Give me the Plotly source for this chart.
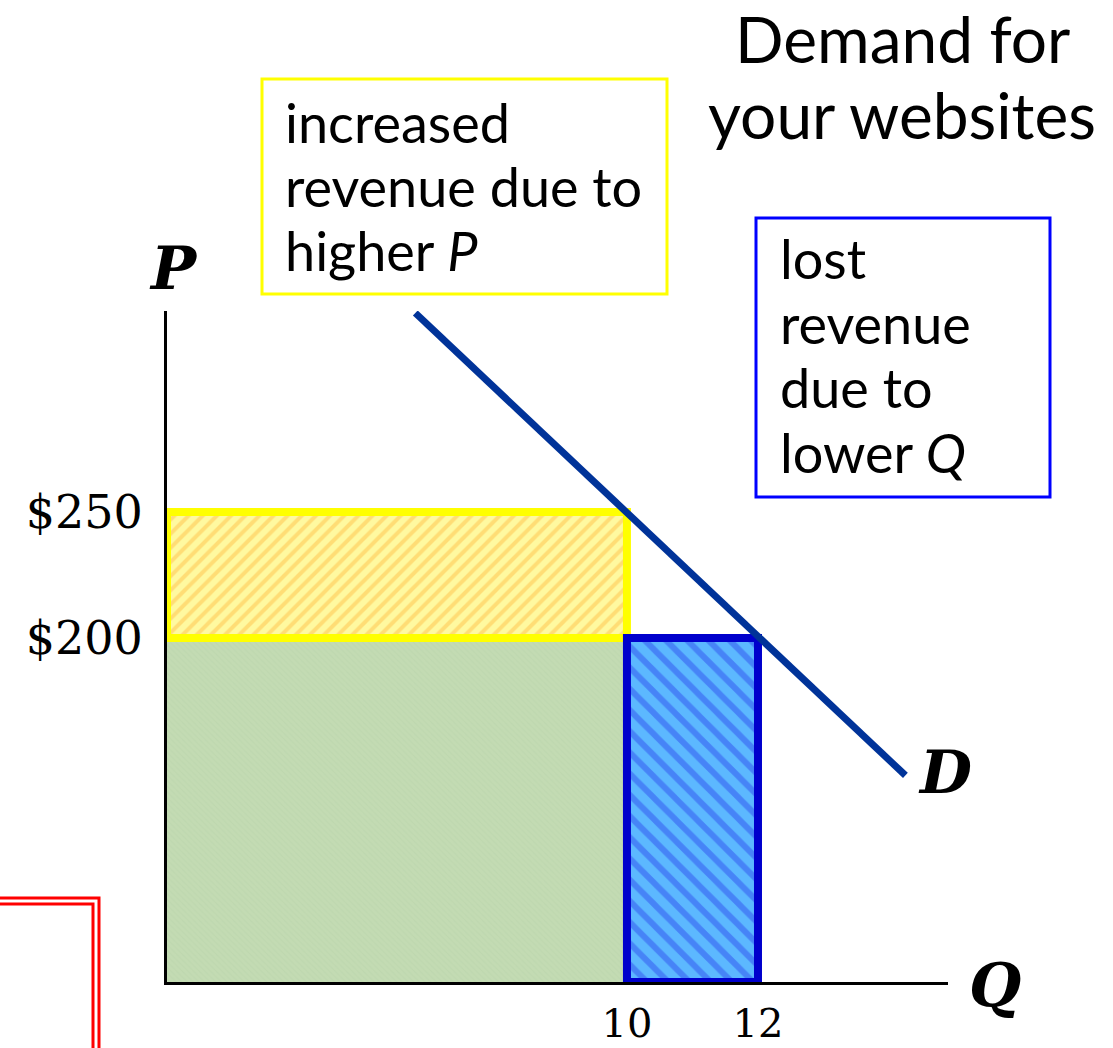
import plotly.graph_objects as go

# ---- data ----
Q_MIN, Q_MAX = 2.98, 14.9          # visible quantity axis span
P_MIN, P_MAX = 63.5, 329.8         # visible price axis span
q_high_price = 10                  # quantity sold at the higher price
q_low_price = 12                   # quantity sold at the lower price
p_high = 250
p_low = 200
demand_q = [6.77, 14.25]
demand_p = [329.0, 145.5]
x_tickvals = [10, 12]
x_ticktext = ["10", "12"]
y_tickvals = [200, 250]
y_ticktext = ["$200", "$250"]
title_lines = ["Demand for", "your websites"]
yellow_lines = ["increased", "revenue due to", "higher <i>P</i>"]
blue_lines = ["lost", "revenue", "due to", "lower <i>Q</i>"]

W, H = 1113, 1048
ML, MR, MT, MB = 167, 165, 311, 66
PW, PH = W - ML - MR, H - MT - MB


def px(x):
    return (x - ML) / PW


def py(y):
    return (H - MB - y) / PH


SANS = "Lato"
SERIF = "DejaVu Serif"

fig = go.Figure()

# base revenue (green)
fig.add_trace(go.Scatter(
    x=[Q_MIN, q_high_price, q_high_price, Q_MIN, Q_MIN],
    y=[P_MIN, P_MIN, p_low, p_low, P_MIN],
    fill="toself", mode="lines", line=dict(width=0),
    fillcolor="#C3DBB3",
    fillpattern=dict(shape="\\", bgcolor="#C3DBB3", fgcolor="#B9D4AC", size=4, solidity=0.3),
    hoverinfo="skip", showlegend=False))

# increased revenue (yellow)
fig.add_trace(go.Scatter(
    x=[Q_MIN, q_high_price, q_high_price, Q_MIN, Q_MIN],
    y=[p_low, p_low, p_high, p_high, p_low],
    fill="toself", mode="lines", line=dict(color="#FFFF00", width=8),
    fillpattern=dict(shape="/", bgcolor="#FFF9A0", fgcolor="#FFC24A", size=10, solidity=0.4),
    hoverinfo="skip", showlegend=False))

# lost revenue (blue)
fig.add_trace(go.Scatter(
    x=[q_high_price, q_low_price, q_low_price, q_high_price, q_high_price],
    y=[P_MIN, P_MIN, p_low, p_low, P_MIN],
    fill="toself", mode="lines", line=dict(color="#0000CC", width=8),
    fillpattern=dict(shape="\\", bgcolor="#5CB8FF", fgcolor="#3050F0", size=15, solidity=0.4),
    hoverinfo="skip", showlegend=False))

# demand curve
fig.add_trace(go.Scatter(
    x=demand_q, y=demand_p, mode="lines",
    line=dict(color="#003399", width=7),
    hoverinfo="skip", showlegend=False))

shapes = [
    dict(type="rect", xref="paper", yref="paper",
         x0=px(262), x1=px(667), y0=py(294), y1=py(79),
         line=dict(color="#FFFF00", width=3), fillcolor="white"),
    dict(type="rect", xref="paper", yref="paper",
         x0=px(756), x1=px(1050), y0=py(497), y1=py(218),
         line=dict(color="#0000FF", width=3), fillcolor="white"),
    # decorative red double frame corner
    dict(type="path", xref="paper", yref="paper",
         path=f"M {px(-5)},{py(898)} L {px(99)},{py(898)} L {px(99)},{py(1060)}",
         line=dict(color="#FF0000", width=3)),
    dict(type="path", xref="paper", yref="paper",
         path=f"M {px(-5)},{py(904)} L {px(93)},{py(904)} L {px(93)},{py(1060)}",
         line=dict(color="#FF0000", width=3)),
]

annotations = []


def add_line(text, x, baseline, size, anchor="left", family=SANS):
    annotations.append(dict(
        text=text, xref="paper", yref="paper", x=px(x), y=py(baseline - 0.36 * size),
        xanchor=anchor, yanchor="middle", showarrow=False,
        font=dict(family=family, size=size, color="black")))


for i, t in enumerate(title_lines):
    add_line(t, 902, 62 + 76 * i, 64, anchor="center")
for i, t in enumerate(yellow_lines):
    add_line(t, 283, 142 + 64 * i, 54)
for i, t in enumerate(blue_lines):
    add_line(t, 778, 278 + 64.5 * i, 54)

for txt, x, y in [("P", 173, 268), ("D", 945, 772), ("Q", 995, 985)]:
    annotations.append(dict(
        text=f"<b><i>{txt}</i></b>", xref="paper", yref="paper", x=px(x), y=py(y),
        xanchor="center", yanchor="middle", showarrow=False,
        font=dict(family=SERIF, size=60, color="black")))

fig.update_layout(
    width=W, height=H, autosize=False,
    margin=dict(l=ML, r=MR, t=MT, b=MB, pad=0),
    paper_bgcolor="white", plot_bgcolor="white",
    shapes=shapes, annotations=annotations,
    xaxis=dict(range=[Q_MIN, Q_MAX], showgrid=False, zeroline=False,
               showline=True, linecolor="black", linewidth=3,
               tickvals=x_tickvals, ticktext=x_ticktext, ticks="",
               ticklabelstandoff=4, automargin=False,
               tickfont=dict(family=SERIF, size=40, color="black")),
    yaxis=dict(range=[P_MIN, P_MAX], showgrid=False, zeroline=False,
               showline=True, linecolor="black", linewidth=3,
               tickvals=y_tickvals, ticktext=y_ticktext, ticks="",
               ticklabelstandoff=12, automargin=False,
               tickfont=dict(family=SERIF, size=46, color="black")),
)

fig.write_html("out.html", config={"displayModeBar": False},
               post_script="document.body.style.margin='0';")
